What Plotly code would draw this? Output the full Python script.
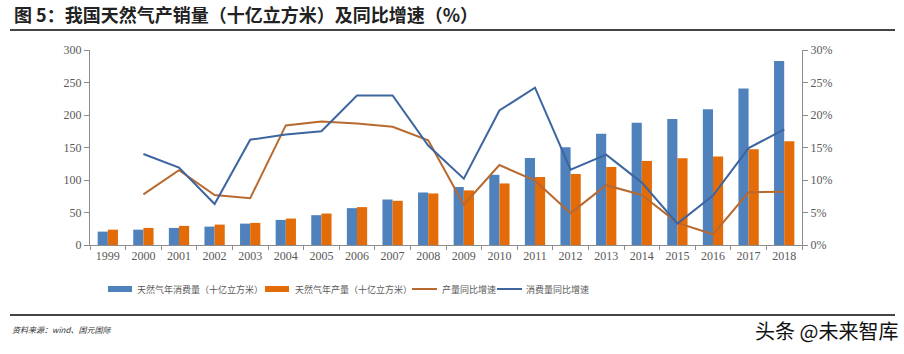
import plotly.graph_objects as go

years = [str(y) for y in range(1999, 2019)]
consumption = [20.6, 23.6, 26.3, 28.3, 32.9, 38.6, 45.9, 56.7, 70.0, 80.8,
               89.2, 108.0, 134.0, 150.4, 171.0, 188.0, 193.7, 209.0, 240.6, 283.0]
production = [23.6, 26.3, 29.4, 31.4, 34.0, 40.7, 48.4, 58.3, 68.0, 79.3,
              84.0, 94.7, 104.6, 109.3, 120.0, 129.4, 133.4, 136.0, 147.3, 159.7]
prod_growth = [None, 7.8, 11.5, 7.7, 7.2, 18.4, 19.0, 18.7, 18.2, 16.1,
               6.2, 12.3, 9.9, 4.9, 9.2, 7.7, 3.4, 1.65, 8.1, 8.2]
cons_growth = [None, 14.0, 11.9, 6.3, 16.2, 17.0, 17.5, 23.0, 23.0, 15.3,
               10.2, 20.7, 24.2, 11.6, 13.9, 9.6, 3.3, 7.6, 14.9, 17.8]
left_ticks = [0, 50, 100, 150, 200, 250, 300]
right_ticks = [0, 5, 10, 15, 20, 25, 30]

names = ["天然气年消费量（十亿立方米）", "天然气年产量（十亿立方米）", "产量同比增速", "消费量同比增速"]
c_blue, c_orange, c_brown, c_line = "#4F81BD", "#E36C09", "#B8692F", "#3D65A0"

W, H = 904, 354
L, R, T, B = 90, 802, 50, 245


def px(x):
    return (x - L) / (R - L)


def py(y):
    return (B - y) / (B - T)


fig = go.Figure()
fig.add_trace(go.Bar(x=years, y=consumption, name=names[0], marker_color=c_blue, marker_line_width=0))
fig.add_trace(go.Bar(x=years, y=production, name=names[1], marker_color=c_orange, marker_line_width=0))
fig.add_trace(go.Scatter(x=years, y=prod_growth, name=names[2], mode="lines",
                         line=dict(color=c_brown, width=2), yaxis="y2"))
fig.add_trace(go.Scatter(x=years, y=cons_growth, name=names[3], mode="lines",
                         line=dict(color=c_line, width=2), yaxis="y2"))

tickfont = dict(family="Liberation Serif", size=12, color="#595959")
axcol = "#8C8C8C"

fig.update_layout(
    width=W, height=H, autosize=False,
    margin=dict(l=L, r=W - R, t=T, b=H - B),
    paper_bgcolor="white", plot_bgcolor="white",
    showlegend=False,
    barmode="group", bargap=0.43, bargroupgap=0,
    xaxis=dict(type="category", showgrid=False, showline=True, linecolor=axcol, linewidth=1,
               ticks="outside", tickson="boundaries", ticklen=4, tickcolor=axcol,
               tickfont=tickfont, zeroline=False),
    yaxis=dict(range=[0, 300], tickvals=left_ticks, showgrid=False, showline=True,
               linecolor=axcol, linewidth=1, ticks="outside", ticklen=5, tickcolor=axcol,
               tickfont=tickfont, zeroline=False),
    yaxis2=dict(range=[0, 30], tickvals=right_ticks, ticktext=[f"{v}%" for v in right_ticks],
                overlaying="y", side="right", showgrid=False, showline=True,
                linecolor=axcol, linewidth=1, ticks="outside", ticklen=5, tickcolor=axcol,
                tickfont=tickfont, zeroline=False),
)

cjk = "Noto Sans CJK SC"
ann = []
shapes = []
# title
ann.append(dict(text="<b>图 5：我国天然气产销量（十亿立方米）及同比增速（%）</b>", x=px(12), y=py(14),
                xref="paper", yref="paper", xanchor="left", yanchor="middle", showarrow=False,
                font=dict(family=cjk, size=18, color="#222222")))
shapes.append(dict(type="line", xref="paper", yref="paper", x0=px(10), x1=px(895), y0=py(30), y1=py(30),
                   line=dict(color="#444444", width=2)))
shapes.append(dict(type="line", xref="paper", yref="paper", x0=px(10), x1=px(895), y0=py(315), y1=py(315),
                   line=dict(color="#444444", width=2)))
# legend
ly = 289
legend_items = [("rect", c_blue, 108, 132, 135, names[0]),
                ("rect", c_orange, 265, 289, 293, names[1]),
                ("line", c_brown, 412, 437, 440, names[2]),
                ("line", c_line, 497, 522, 524, names[3])]
for kind, col, x0, x1, tx, label in legend_items:
    if kind == "rect":
        shapes.append(dict(type="rect", xref="paper", yref="paper", x0=px(x0), x1=px(x1),
                           y0=py(ly + 3), y1=py(ly - 3), fillcolor=col, line=dict(width=0)))
    else:
        shapes.append(dict(type="line", xref="paper", yref="paper", x0=px(x0), x1=px(x1),
                           y0=py(ly), y1=py(ly), line=dict(color=col, width=2)))
    ann.append(dict(text=label, x=px(tx), y=py(ly), xref="paper", yref="paper", xanchor="left",
                    yanchor="middle", showarrow=False, font=dict(family=cjk, size=9, color="#595959")))
# footer
ann.append(dict(text="<i>资料来源：wind、国元国际</i>", x=px(10), y=py(329), xref="paper", yref="paper",
                xanchor="left", yanchor="middle", showarrow=False,
                font=dict(family=cjk, size=8, color="#333333")))
ann.append(dict(text="头条 @未来智库", x=px(900), y=py(330), xref="paper", yref="paper",
                xanchor="right", yanchor="middle", showarrow=False,
                font=dict(family=cjk, size=20, color="#111111")))

fig.update_layout(annotations=ann, shapes=shapes)
fig.write_html("out.html")
